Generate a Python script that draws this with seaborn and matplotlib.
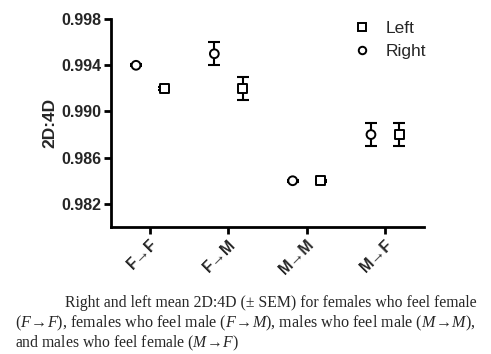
import numpy as np
import pandas as pd
import matplotlib
matplotlib.use("Agg")
import matplotlib.pyplot as plt
import seaborn as sns

groups = ["F\u2192F", "F\u2192M", "M\u2192M", "M\u2192F"]
right_mean = [0.994, 0.995, 0.984, 0.988]
right_sem = [0.0001, 0.001, 0.0001, 0.001]
left_mean = [0.992, 0.992, 0.984, 0.988]
left_sem = [0.0001, 0.001, 0.0001, 0.001]
yticks = [0.982, 0.986, 0.990, 0.994, 0.998]

sns.set_style("ticks")
plt.rcParams['font.family'] = ['Liberation Sans', 'DejaVu Sans']
plt.rcParams['mathtext.fontset'] = 'custom'
plt.rcParams['mathtext.rm'] = 'Liberation Serif'
plt.rcParams['mathtext.it'] = 'Liberation Serif:italic'

rows = []
for i, g in enumerate(groups):
    rows.append({"x": i - 0.18, "mean": right_mean[i], "sem": right_sem[i], "hand": "Right"})
    rows.append({"x": i + 0.18, "mean": left_mean[i], "sem": left_sem[i], "hand": "Left"})
df = pd.DataFrame(rows)

fig = plt.figure(figsize=(4.91, 3.54), dpi=100)
ax = fig.add_axes([0.226, 0.359, 0.638, 0.587])

ax.errorbar(df["x"], df["mean"], yerr=df["sem"], fmt="none", ecolor="black",
            elinewidth=1.5, capsize=4.5, capthick=1.5, zorder=2)
sns.scatterplot(data=df, x="x", y="mean", style="hand", style_order=["Left", "Right"],
                markers={"Left": "s", "Right": "o"}, s=40, facecolor="white",
                edgecolor="black", linewidth=1.4, ax=ax, zorder=3, legend=True)

ax.set_xlim(-0.5, 3.5)
ax.set_ylim(0.980, 0.998)
ax.set_yticks(yticks)
ax.set_yticklabels([f"{v:.3f}" for v in yticks], fontweight="bold", fontsize=11.5)
ax.set_xticks(range(len(groups)))
ax.set_xticklabels(groups, rotation=45, ha="right", rotation_mode="anchor",
                   fontweight="bold", fontsize=11.5)
ax.set_xlabel("")
ax.set_ylabel("2D:4D", fontweight="bold", fontsize=12.5, labelpad=3)
ax.tick_params(axis="both", width=2, length=5, direction="out", color="black", pad=2)
for s in ["right", "top"]:
    ax.spines[s].set_visible(False)
for s in ["left", "bottom"]:
    ax.spines[s].set_linewidth(2)
    ax.spines[s].set_color("black")

handles, labels = ax.get_legend_handles_labels()
for h in handles:
    h.set_markerfacecolor("white")
    h.set_markeredgecolor("black")
ax.legend(handles, labels, frameon=False, loc="upper left", bbox_to_anchor=(0.695, 1.065),
          fontsize=12.5, labelspacing=0.45, handletextpad=0.4, markerscale=0.85)

cap_font = "Liberation Serif"
fig.text(65 / 491, 1 - 307 / 354, "Right and left mean 2D:4D (\u00b1 SEM) for females who feel female",
         family=[cap_font, "DejaVu Serif"], fontsize=11.3, va="baseline")
fig.text(15 / 491, 1 - 327 / 354,
         r"($F\!\rightarrow\!F$), females who feel male ($F\!\rightarrow\!M$), males who feel male ($M\!\rightarrow\!M$),",
         family=[cap_font, "DejaVu Serif"], fontsize=11.6, va="baseline")
fig.text(15 / 491, 1 - 347 / 354, r"and males who feel female ($M\!\rightarrow\!F$)",
         family=[cap_font, "DejaVu Serif"], fontsize=11.3, va="baseline")

fig.savefig("out.png", dpi=100)
